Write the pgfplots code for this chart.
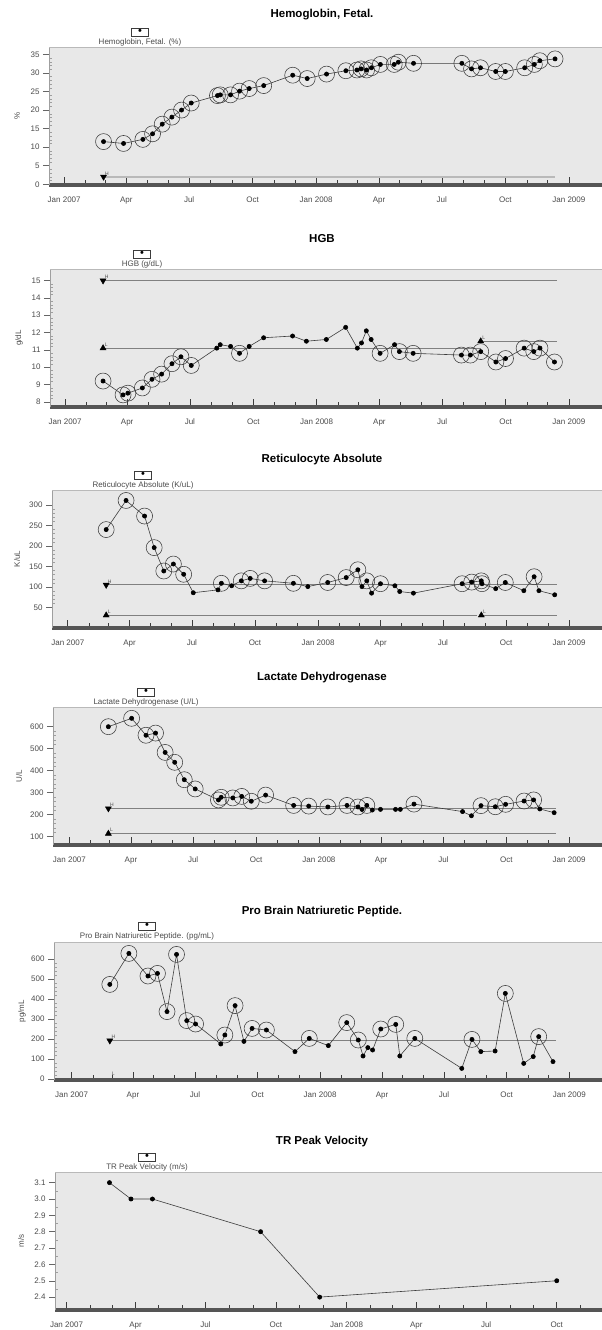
\documentclass[border=0pt]{standalone}
\usepackage{fontspec}
\setmainfont{Liberation Sans}
\usepackage{pgfplots}
\pgfplotsset{compat=1.18}
\usepackage{pgfplotstable}

\definecolor{bg}{RGB}{232,232,232}
\definecolor{barc}{RGB}{85,85,85}
\definecolor{ink}{RGB}{60,60,60}
\definecolor{lim}{RGB}{128,128,128}
\definecolor{tlab}{RGB}{75,75,75}

% x = days since 1 Jan 2007, c = 1 for ringed (flagged) values
\pgfplotstableread{
x y c
57 11.5 1
86 11.0 1
114 12.1 1
128 13.6 1
142 16.2 1
156 18.1 1
170 20.0 1
184 21.9 1
222 23.9 1
226 24.1 1
241 24.1 1
254 25.1 1
268 25.8 1
289 26.6 1
331 29.4 1
352 28.5 1
380 29.7 1
408 30.6 1
424 30.8 1
430 31.1 1
438 30.8 1
445 31.4 1
458 32.3 1
478 32.3 1
484 32.9 1
506 32.6 1
576 32.6 1
590 31.1 1
603 31.4 1
625 30.4 1
639 30.4 1
667 31.4 1
681 32.3 1
689 33.3 1
711 33.8 1
}\hbf

\pgfplotstableread{
x y c
55 9.2 1
84 8.4 1
91 8.5 1
112 8.8 1
126 9.3 1
140 9.6 1
155 10.2 1
168 10.6 1
183 10.1 1
220 11.1 0
225 11.3 0
240 11.2 0
253 10.8 1
267 11.2 0
288 11.7 0
330 11.8 0
350 11.5 0
379 11.6 0
407 12.3 0
424 11.1 0
430 11.4 0
437 12.1 0
444 11.6 0
457 10.8 1
478 11.3 0
485 10.9 1
505 10.8 1
575 10.7 1
588 10.7 1
603 10.9 1
625 10.3 1
639 10.5 1
666 11.1 1
680 10.9 1
689 11.1 1
710 10.3 1
}\hgb

\pgfplotstableread{
x y c
56 240 1
85 311 1
112 273 1
126 196 1
140 139 1
154 156 1
169 131 1
183 86 0
219 93 0
224 109 1
239 103 0
253 115 1
266 121 1
287 115 1
329 109 1
350 101 0
379 111 1
406 123 1
423 142 1
429 101 0
436 115 1
443 85 0
456 108 1
477 103 0
484 89 0
504 85 0
575 108 1
589 112 1
603 115 1
604 108 1
624 96 0
638 111 1
665 91 0
680 125 1
687 91 0
710 81 0
}\retic

\pgfplotstableread{
x y c
57 600 1
91 638 1
112 561 1
126 571 1
140 483 1
154 438 1
168 359 1
184 317 1
218 267 1
222 279 1
239 276 1
252 283 1
266 261 1
287 289 1
328 242 1
350 239 1
378 235 1
406 242 1
422 235 1
428 224 0
435 242 1
443 221 0
455 224 0
477 224 0
484 224 0
504 248 1
575 214 0
588 195 0
602 241 1
623 236 1
638 247 1
665 262 1
679 267 1
688 226 0
709 209 0
}\ldh

\pgfplotstableread{
x y c
56 473 1
84 628 1
112 515 1
126 528 1
140 337 1
154 623 1
169 292 1
182 275 1
219 175 0
225 220 1
240 367 1
253 188 0
265 253 1
286 245 1
328 137 0
349 203 1
377 167 0
404 282 1
421 195 1
428 115 0
435 157 0
442 145 0
454 250 1
476 273 1
482 115 0
504 203 1
573 53 0
588 198 1
601 137 0
622 140 0
637 428 1
664 78 0
678 112 0
686 212 1
707 87 0
}\bnp

\pgfplotstableread{
x y
56 3.1
84 3.0
112 3.0
253 2.8
330 2.4
639 2.5
}\trv

\pgfplotsset{
  panel/.style={
    scale only axis, height=138pt,
    axis background/.style={fill=bg},
    axis x line*=bottom, axis y line*=left,
    x axis line style={line width=3.5pt, color=barc},
    y axis line style={line width=0.6pt, color=gray!75},
    tick align=outside,
    major tick length=6pt, minor tick length=3pt,
    major x tick style={yshift=7.75pt, ink, line width=0.6pt},
    minor x tick style={yshift=4.75pt, ink, line width=0.5pt},
    major y tick style={gray!80!black, line width=0.5pt},
    minor y tick style={xshift=3pt, gray!75, line width=0.4pt},
    xtick={0,90,181,273,365,456,547,639,731},
    minor xtick={31,59,120,151,212,243,304,334,396,425,486,517,578,609,670,700},
    xticklabels={Jan 2007,Apr,Jul,Oct,Jan 2008,Apr,Jul,Oct,Jan 2009},
    tick label style={font=\fontsize{8}{9}\selectfont, text=tlab},
    xticklabel style={yshift=-2pt},
    /pgf/number format/assume math mode=true,
    after end axis/.code={\draw[gray!55, line width=0.9pt] (rel axis cs:0,1) -- (rel axis cs:1,1);},
  },
  dataline/.style={ink, line width=0.6pt, mark=*, mark size=2.1pt, mark options={black, solid}},
  ring/.style={only marks, mark=o, mark size=8pt, mark options={ink, line width=0.55pt},
    restrict expr to domain={\thisrow{c}}{0.5:1.5}},
  limline/.style={lim, line width=1pt, no marks},
  limH/.style={only marks, mark=triangle*, mark size=3.5pt, mark options={black, rotate=180},
    nodes near coords={H}, every node near coord/.style={font=\fontsize{5}{5}\selectfont, text=tlab, anchor=south west, inner sep=0.5pt, xshift=1pt, yshift=1pt}},
  limL/.style={only marks, mark=triangle*, mark size=3.5pt, mark options={black},
    nodes near coords={L}, every node near coord/.style={font=\fontsize{5}{5}\selectfont, text=tlab, anchor=south west, inner sep=0.5pt, xshift=1pt, yshift=1pt}},
}

\newcommand{\ptitle}[2]{\node[font=\bfseries\fontsize{11.5}{13}\selectfont] at (322pt,#1) {#2};}
\newcommand{\pleg}[3]{%
  \node[draw=ink, line width=0.6pt, minimum width=17pt, minimum height=8pt, inner sep=0pt] at (#1,#2) {};%
  \node[inner sep=0pt, font=\fontsize{11}{11}\selectfont] at ([yshift=0.3pt]#1,#2) {•};%
  \node[font=\fontsize{8}{9}\selectfont, text=tlab] at ([yshift=-10pt]#1,#2) {#3};}
\newcommand{\pylab}[3]{\node[rotate=90, font=\fontsize{8}{9}\selectfont, text=tlab] at (#1,#2) {#3};}

\begin{document}
\begin{tikzpicture}
\path[use as bounding box] (0,0) rectangle (602pt,-1330pt);

% ---------- 1 Hemoglobin, Fetal ----------
\ptitle{-15pt}{Hemoglobin, Fetal.}
\pleg{140pt}{-32pt}{Hemoglobin, Fetal. (\%)}
\pylab{17pt}{-116pt}{\%}
\begin{axis}[panel, at={(49pt,-47pt)}, anchor=north west, width=553pt,
  xmin=-22, xmax=779, ymin=-0.2, ymax=37, ytick={0,5,...,35}, minor y tick num=4]
\addplot[limline, gray!55, line width=1.6pt] coordinates {(57,2) (711,2)};
\addplot[limH] coordinates {(57,2)};
\addplot[ring] table[x=x,y=y] {\hbf};
\addplot[dataline] table[x=x,y=y] {\hbf};
\end{axis}

% ---------- 2 HGB ----------
\ptitle{-239pt}{HGB}
\pleg{142pt}{-254pt}{HGB (g/dL)}
\pylab{19pt}{-338pt}{g/dL}
\begin{axis}[panel, at={(50pt,-269pt)}, anchor=north west, width=552pt,
  xmin=-22, xmax=779, ymin=7.7, ymax=15.67, ytick={8,...,15}, minor y tick num=4]
\addplot[limline] coordinates {(55,15) (713,15)};
\addplot[limline] coordinates {(55,11.1) (603,11.1)};
\addplot[limline] coordinates {(603,11.5) (713,11.5)};
\addplot[limH] coordinates {(55,15)};
\addplot[limL] coordinates {(55,11.1)};
\addplot[limL] coordinates {(603,11.5)};
\addplot[ring] table[x=x,y=y] {\hgb};
\addplot[dataline] table[x=x,y=y] {\hgb};
\end{axis}

% ---------- 3 Reticulocyte Absolute ----------
\ptitle{-460pt}{Reticulocyte Absolute}
\pleg{143pt}{-475pt}{Reticulocyte Absolute (K/uL)}
\pylab{17pt}{-559pt}{K/uL}
\begin{axis}[panel, at={(52pt,-490pt)}, anchor=north west, width=550pt,
  xmin=-23, xmax=779, ymin=0, ymax=336.5, ytick={50,100,...,300}, minor y tick num=4]
\addplot[limline] coordinates {(56,105) (713,105)};
\addplot[limline] coordinates {(56,31) (596,31)};
\addplot[limline] coordinates {(603,31) (713,31)};
\addplot[limH] coordinates {(56,105)};
\addplot[limL] coordinates {(56,31)};
\addplot[limL] coordinates {(603,31)};
\addplot[ring] table[x=x,y=y] {\retic};
\addplot[dataline] table[x=x,y=y] {\retic};
\end{axis}

% ---------- 4 Lactate Dehydrogenase ----------
\ptitle{-678pt}{Lactate Dehydrogenase}
\pleg{146pt}{-692pt}{Lactate Dehydrogenase (U/L)}
\pylab{19pt}{-776pt}{U/L}
\begin{axis}[panel, at={(53pt,-707pt)}, anchor=north west, width=549pt,
  xmin=-24, xmax=779, ymin=62, ymax=689.5, ytick={100,200,...,600}, minor y tick num=4]
\addplot[limline] coordinates {(57,228) (711,228)};
\addplot[limline] coordinates {(57,114) (711,114)};
\addplot[limH] coordinates {(57,228)};
\addplot[limL] coordinates {(57,114)};
\addplot[ring] table[x=x,y=y] {\ldh};
\addplot[dataline] table[x=x,y=y] {\ldh};
\end{axis}

% ---------- 5 Pro Brain Natriuretic Peptide ----------
\ptitle{-912pt}{Pro Brain Natriuretic Peptide.}
\pleg{147pt}{-926pt}{Pro Brain Natriuretic Peptide. (pg/mL)}
\pylab{22pt}{-1011pt}{pg/mL}
\begin{axis}[panel, at={(54pt,-942pt)}, anchor=north west, width=548pt,
  xmin=-26, xmax=779, ymin=-5, ymax=685, ytick={0,100,...,600}, minor y tick num=4]
\addplot[limline] coordinates {(56,192) (712,192)};
\addplot[limH] coordinates {(56,192)};
\node[font=\fontsize{5}{5}\selectfont, text=tlab, anchor=south west, inner sep=0.5pt] at (axis cs:58,12) {L};
\addplot[ring] table[x=x,y=y] {\bnp};
\addplot[dataline] table[x=x,y=y] {\bnp};
\end{axis}

% ---------- 6 TR Peak Velocity ----------
\ptitle{-1142pt}{TR Peak Velocity}
\pleg{147pt}{-1157pt}{TR Peak Velocity (m/s)}
\pylab{21pt}{-1241pt}{m/s}
\begin{axis}[panel, at={(55pt,-1172pt)}, anchor=north west, width=547pt,
  xmin=-15, xmax=698, ymin=2.321, ymax=3.165,
  xtick={0,90,181,273,365,456,547,639},
  xticklabels={Jan 2007,Apr,Jul,Oct,Jan 2008,Apr,Jul,Oct},
  minor xtick={31,59,120,151,212,243,304,334,396,425,486,517,578,609,670},
  ytick={2.4,2.5,...,3.1}, minor y tick num=1,
  yticklabel style={/pgf/number format/.cd, fixed, fixed zerofill, precision=1}]
\addplot[dataline] table[x=x,y=y] {\trv};
\end{axis}
\end{tikzpicture}
\end{document}
